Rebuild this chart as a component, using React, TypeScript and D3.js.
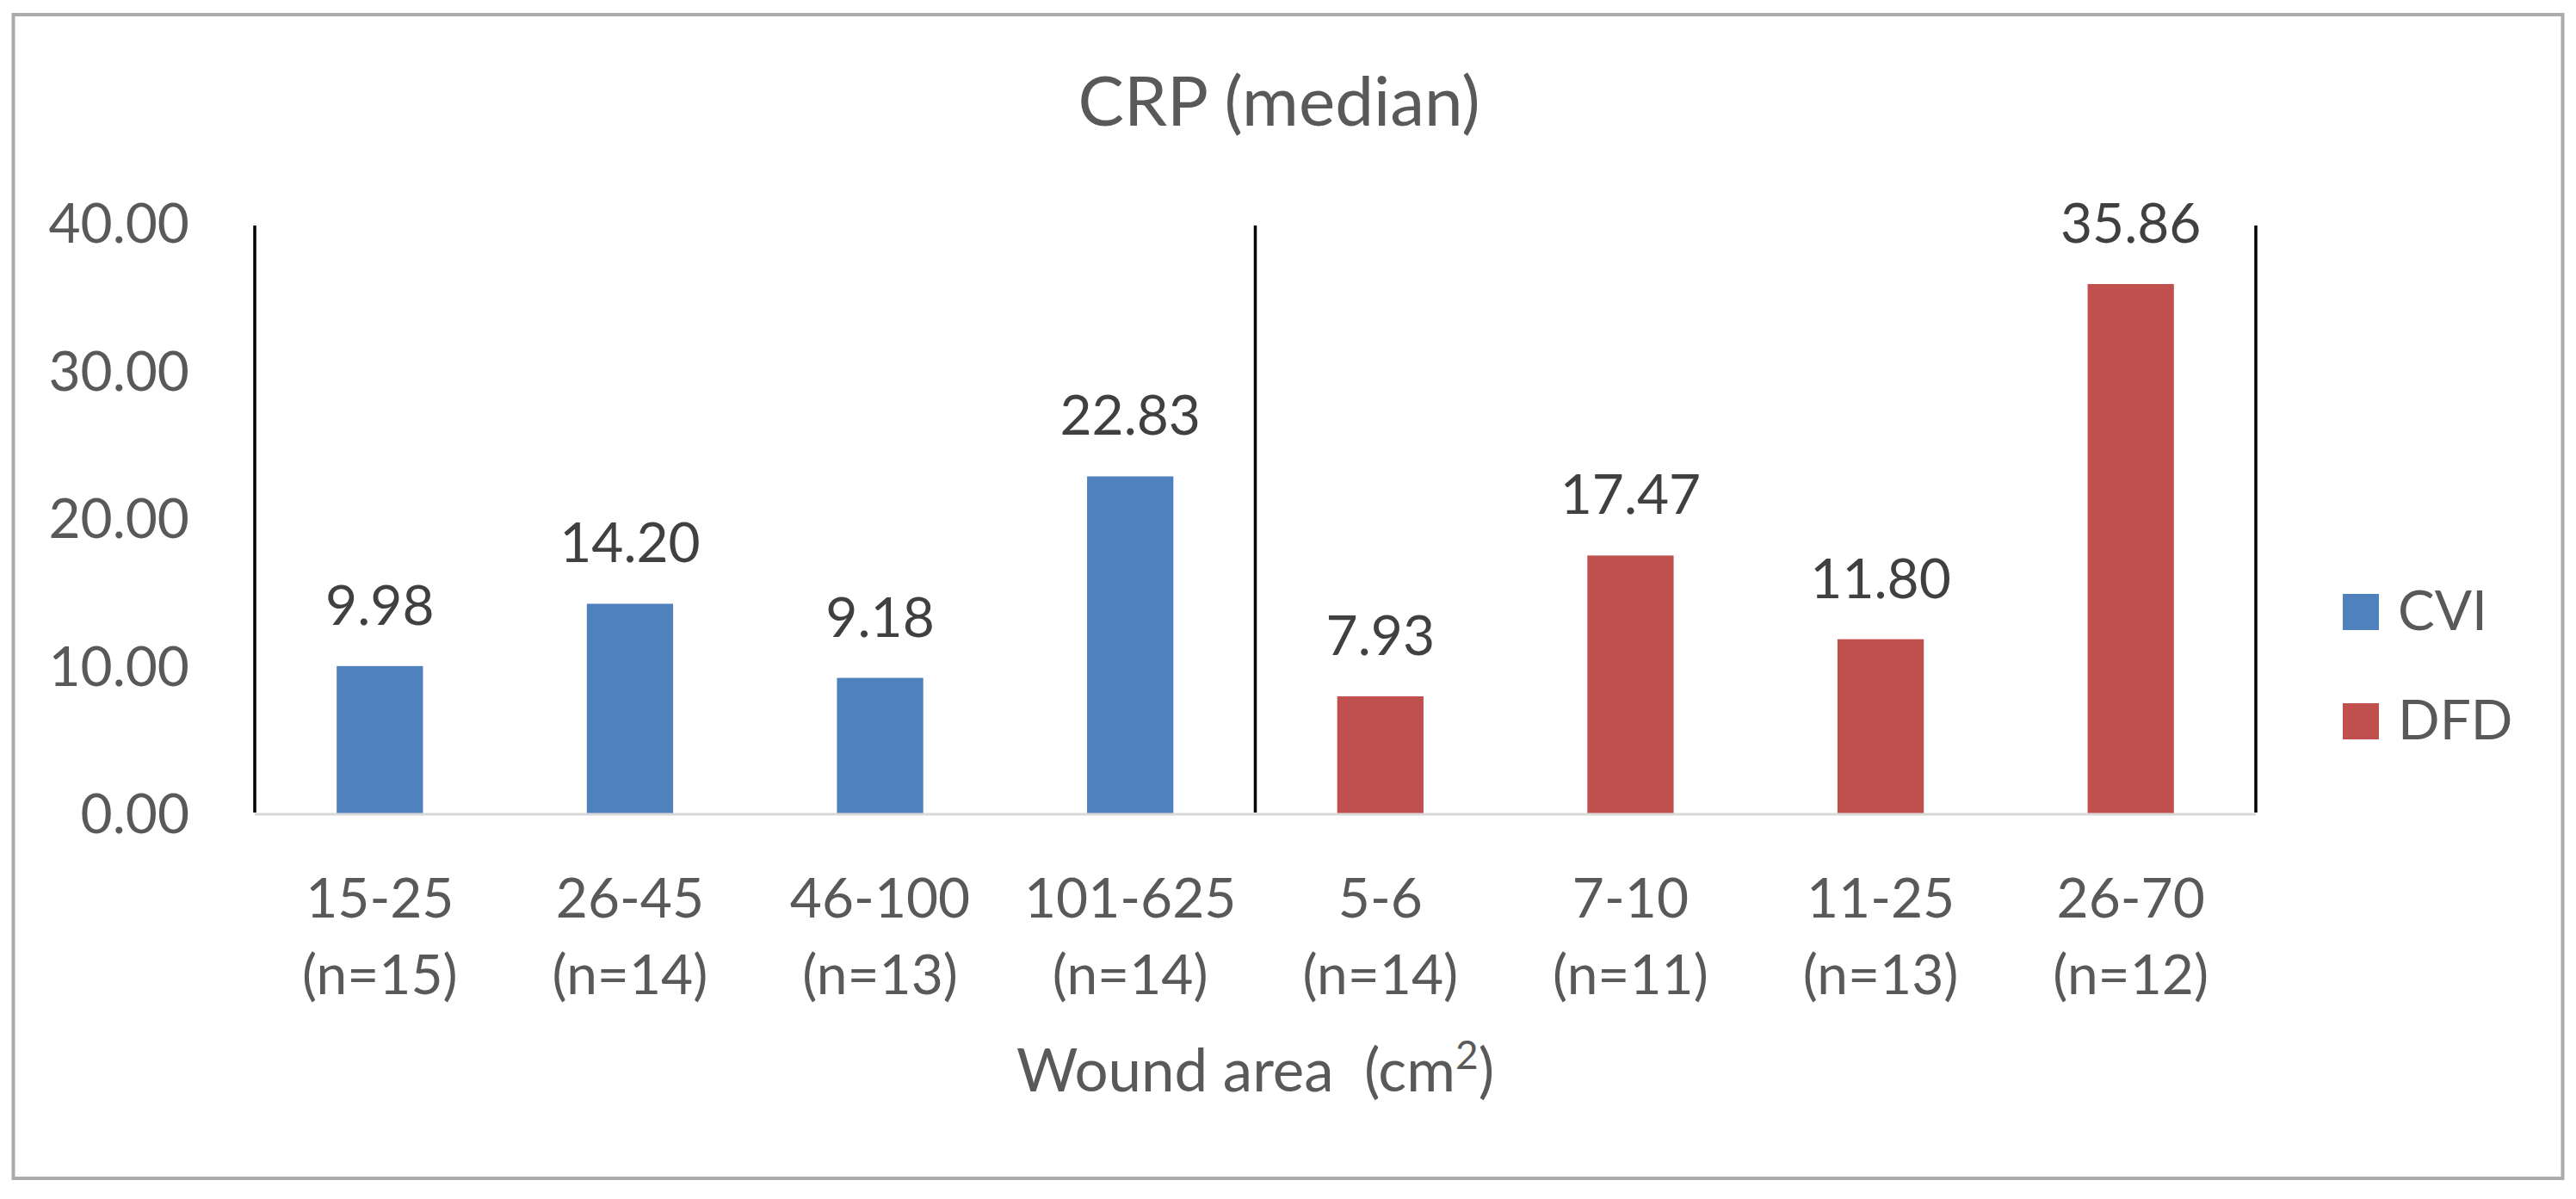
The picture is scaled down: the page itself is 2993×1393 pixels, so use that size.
import React, { useEffect, useRef } from 'react';
import * as d3 from 'd3';

const categories = ['15-25', '26-45', '46-100', '101-625', '5-6', '7-10', '11-25', '26-70'];
const sampleSizes = ['(n=15)', '(n=14)', '(n=13)', '(n=14)', '(n=14)', '(n=11)', '(n=13)', '(n=12)'];
const groups = ['CVI', 'CVI', 'CVI', 'CVI', 'DFD', 'DFD', 'DFD', 'DFD'];
const values = [9.98, 14.2, 9.18, 22.83, 7.93, 17.47, 11.8, 35.86];
const seriesNames = ['CVI', 'DFD'];
const yTicks = [0, 10, 20, 30, 40];

const WIDTH = 2993;
const HEIGHT = 1393;
const FONT = 'Lato, "Open Sans", sans-serif';
const TEXT = '#595959';

const App: React.FC = () => {
  const svgRef = useRef<SVGSVGElement | null>(null);

  useEffect(() => {
    const svg = d3.select(svgRef.current);
    svg.selectAll('*').remove();

    const marginLeft = 296;
    const plotRight = 2621;
    const plotTop = 259;
    const plotBottom = 945;

    const slot = d3.scaleBand<string>()
      .domain(categories)
      .range([marginLeft, plotRight])
      .padding(0);
    const barWidth = slot.bandwidth() * 0.345;

    const y = d3.scaleLinear()
      .domain([0, 40])
      .range([plotBottom, plotTop]);

    const color = d3.scaleOrdinal<string, string>()
      .domain(seriesNames)
      .range(['#4F81BD', '#C0504D']);

    // chart border
    svg.append('rect')
      .attr('x', 15.5)
      .attr('y', 17)
      .attr('width', 2962)
      .attr('height', 1352)
      .attr('fill', '#fff')
      .attr('stroke', '#ababab')
      .attr('stroke-width', 4);

    svg.append('text')
      .attr('x', 1486)
      .attr('y', 146)
      .attr('text-anchor', 'middle')
      .attr('font-size', 80)
      .attr('font-family', FONT)
      .attr('fill', TEXT)
      .text('CRP (median)');

    // y tick labels (no gridlines)
    svg.append('g')
      .selectAll('text')
      .data(yTicks)
      .join('text')
      .attr('x', 220)
      .attr('y', d => y(d))
      .attr('dy', '0.36em')
      .attr('text-anchor', 'end')
      .attr('font-size', 64)
      .attr('font-family', FONT)
      .attr('fill', TEXT)
      .text(d => d3.format('.2f')(d));

    // bars
    svg.append('g')
      .selectAll('rect')
      .data(values)
      .join('rect')
      .attr('x', (d, i) => slot(categories[i])! + (slot.bandwidth() - barWidth) / 2)
      .attr('y', d => y(d))
      .attr('width', barWidth)
      .attr('height', d => y(0) - y(d) + 2)
      .attr('fill', (d, i) => color(groups[i]));

    // x baseline
    svg.append('line')
      .attr('x1', marginLeft)
      .attr('x2', plotRight)
      .attr('y1', y(0) + 1)
      .attr('y2', y(0) + 1)
      .attr('stroke', '#d9d9d9')
      .attr('stroke-width', 3);

    // group separators
    const separators = [
      slot(categories[0])!,
      slot(categories[4])!,
      slot(categories[7])! + slot.bandwidth(),
    ];
    svg.append('g')
      .selectAll('line')
      .data(separators)
      .join('line')
      .attr('x1', d => d)
      .attr('x2', d => d)
      .attr('y1', y(40) + 3)
      .attr('y2', y(0) - 1)
      .attr('stroke', '#000')
      .attr('stroke-width', 3.5);

    // value labels
    svg.append('g')
      .selectAll('text')
      .data(values)
      .join('text')
      .attr('x', (d, i) => slot(categories[i])! + slot.bandwidth() / 2)
      .attr('y', d => y(d) - 48)
      .attr('text-anchor', 'middle')
      .attr('font-size', 64)
      .attr('font-family', FONT)
      .attr('fill', '#404040')
      .text(d => d3.format('.2f')(d));

    // category labels, two lines
    const catLabels = svg.append('g')
      .attr('font-size', 64)
      .attr('font-family', FONT)
      .attr('fill', TEXT)
      .attr('text-anchor', 'middle');
    catLabels.selectAll('text.range')
      .data(categories)
      .join('text')
      .attr('class', 'range')
      .attr('x', d => slot(d)! + slot.bandwidth() / 2)
      .attr('y', 1066)
      .text(d => d);
    catLabels.selectAll('text.n')
      .data(sampleSizes)
      .join('text')
      .attr('class', 'n')
      .attr('x', (d, i) => slot(categories[i])! + slot.bandwidth() / 2)
      .attr('y', 1155)
      .text(d => d);

    // x axis title with superscript
    const xTitle = svg.append('text')
      .attr('x', (marginLeft + plotRight) / 2)
      .attr('y', 1268)
      .attr('text-anchor', 'middle')
      .attr('font-size', 69)
      .attr('font-family', FONT)
      .attr('fill', TEXT);
    xTitle.append('tspan').text('Wound area\u00a0 (cm');
    xTitle.append('tspan').attr('font-size', 46).attr('dy', -26).text('2');
    xTitle.append('tspan').attr('dy', 26).text(')');

    // legend
    const legend = svg.append('g')
      .selectAll('g')
      .data(seriesNames)
      .join('g')
      .attr('transform', (d, i) => `translate(2722,${690 + i * 127})`);
    legend.append('rect')
      .attr('width', 42)
      .attr('height', 42)
      .attr('fill', d => color(d));
    legend.append('text')
      .attr('x', 64)
      .attr('y', 42)
      .attr('font-size', 64)
      .attr('font-family', FONT)
      .attr('fill', TEXT)
      .text(d => d);
  }, []);

  return (
    <svg
      ref={svgRef}
      width={WIDTH}
      height={HEIGHT}
      style={{ position: 'absolute', left: 0, top: 0, display: 'block', background: '#fff' }}
    />
  );
};

export default App;
